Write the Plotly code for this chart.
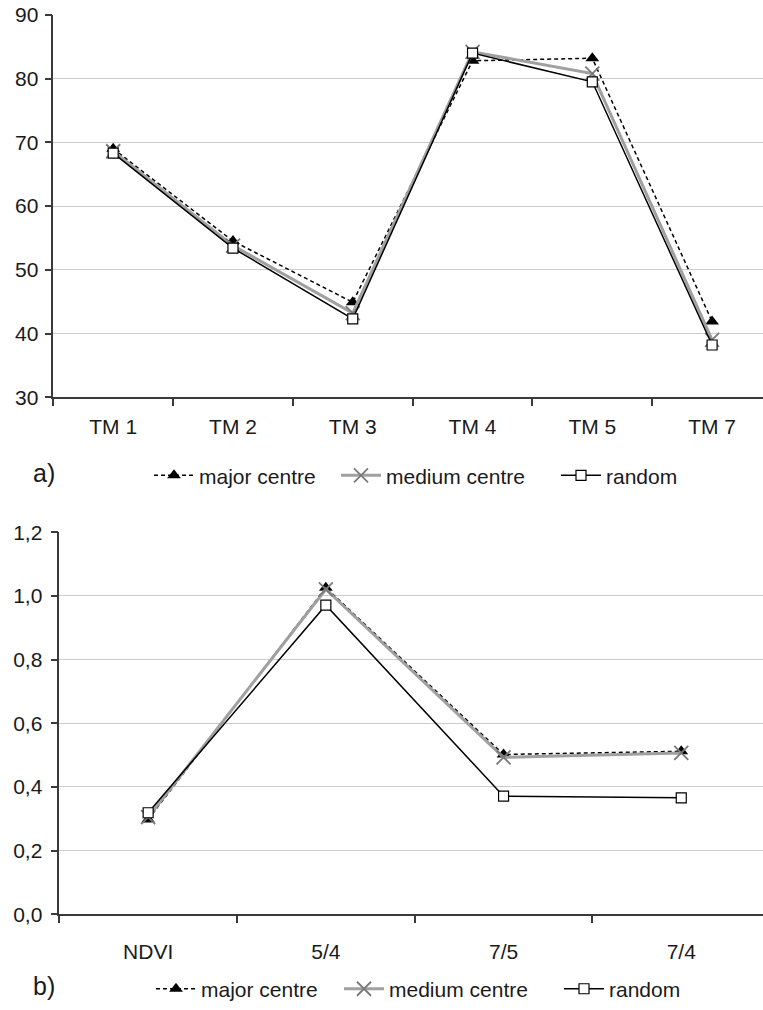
import plotly.graph_objects as go

# ---- data ----
bands = ["TM 1", "TM 2", "TM 3", "TM 4", "TM 5", "TM 7"]
major_a = [69.0, 54.5, 44.9, 82.8, 83.2, 41.9]
medium_a = [68.6, 53.8, 43.2, 84.2, 80.8, 39.0]
random_a = [68.3, 53.4, 42.3, 84.0, 79.5, 38.2]

ratios = ["NDVI", "5/4", "7/5", "7/4"]
major_b = [0.298, 1.026, 0.502, 0.512]
medium_b = [0.305, 1.021, 0.493, 0.507]
random_b = [0.319, 0.971, 0.371, 0.366]

series_names = ["major centre", "medium centre", "random"]

W, H = 763, 1010
FONT = "Liberation Sans, Arial, sans-serif"
FS = 21

styles = [
    dict(line=dict(color="#000000", width=1.5, dash="4px,3px"),
         marker=dict(symbol="triangle-up", size=12, color="#000000",
                     line=dict(color="#000000", width=0))),
    dict(line=dict(color="#a0a0a0", width=3),
         marker=dict(symbol="x-thin-open", size=14, color="#7a7a7a",
                     line=dict(color="#7a7a7a", width=1.8))),
    dict(line=dict(color="#000000", width=1.5),
         marker=dict(symbol="square", size=10, color="#ffffff",
                     line=dict(color="#000000", width=1.2))),
]

legends_a = ["legend", "legend2", "legend3"]
legends_b = ["legend4", "legend5", "legend6"]

fig = go.Figure()
for name, ys, st, lg in zip(series_names, [major_a, medium_a, random_a], styles, legends_a):
    fig.add_trace(go.Scatter(x=bands, y=ys, name=name, mode="lines+markers",
                             xaxis="x", yaxis="y", legend=lg, showlegend=True, **st))
for name, ys, st, lg in zip(series_names, [major_b, medium_b, random_b], styles, legends_b):
    fig.add_trace(go.Scatter(x=ratios, y=ys, name=name, mode="lines+markers",
                             xaxis="x2", yaxis="y2", legend=lg, showlegend=True, **st))

def py(p):
    return (H - p) / H

axis_common = dict(showline=True, linecolor="#3a3a3a", linewidth=1.5,
                   ticks="outside", ticklen=7, tickcolor="#3a3a3a", tickwidth=1.5,
                   automargin=False,
                   tickfont=dict(family=FONT, size=FS, color="#1a1a1a"))

legend_common = dict(orientation="h", xanchor="left", yanchor="middle",
                     font=dict(family=FONT, size=FS, color="#1a1a1a"), itemwidth=40,
                     bgcolor="rgba(0,0,0,0)", visible=True)

legend_x_a = [149, 336, 556]
legend_x_b = [151, 339, 559]
legend_layout = {}
for lg, xp in zip(legends_a, legend_x_a):
    legend_layout[lg] = dict(x=xp / W, y=py(479), **legend_common)
for lg, xp in zip(legends_b, legend_x_b):
    legend_layout[lg] = dict(x=xp / W, y=py(996), **legend_common)

fig.update_layout(
    width=W, height=H,
    margin=dict(l=0, r=0, t=0, b=0),
    showlegend=True,
    paper_bgcolor="white", plot_bgcolor="white",
    separators=",.",
    font=dict(family=FONT, size=FS, color="#1a1a1a"),
    xaxis=dict(domain=[53.3 / W, 1], anchor="y", type="category",
               range=[-0.5, 5.425], tickson="boundaries", showgrid=False,
               ticklabelstandoff=10, **axis_common),
    yaxis=dict(domain=[py(400), py(15)], anchor="x", range=[30, 90], dtick=10,
               showgrid=True, gridcolor="#cccccc", gridwidth=1, zeroline=False,
               ticklabelstandoff=2, **axis_common),
    xaxis2=dict(domain=[59.3 / W, 1], anchor="y2", type="category",
                range=[-0.5, 3.46], tickson="boundaries", showgrid=False,
                ticklabelstandoff=18, **axis_common),
    yaxis2=dict(domain=[py(920.7), py(536)], anchor="x2", range=[0, 1.2], dtick=0.2,
                tickformat=".1f", showgrid=True, gridcolor="#cccccc", gridwidth=1,
                zeroline=False, ticklabelstandoff=4, **axis_common),
    annotations=[
        dict(text="a)", x=44 / W, y=py(476), xref="paper", yref="paper",
             xanchor="center", yanchor="middle", showarrow=False,
             font=dict(family=FONT, size=25, color="#1a1a1a")),
        dict(text="b)", x=44 / W, y=py(993), xref="paper", yref="paper",
             xanchor="center", yanchor="middle", showarrow=False,
             font=dict(family=FONT, size=25, color="#1a1a1a")),
    ],
    **legend_layout,
)

fig.write_html("out.html", config={"displayModeBar": False},
               post_script="document.body.style.margin='0';document.body.style.overflow='hidden';")
